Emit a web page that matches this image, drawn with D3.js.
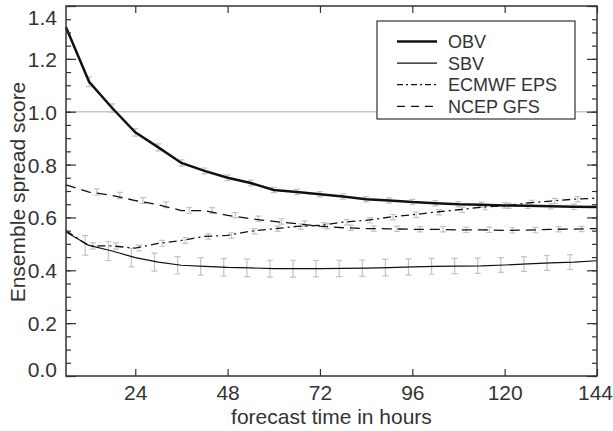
<!DOCTYPE html>
<html>
<head>
<meta charset="utf-8">
<script src="https://cdn.jsdelivr.net/npm/d3@7"></script>
<style>
body { margin: 0; background: #fff; }
text { font-family: "Liberation Sans", Arial, sans-serif; fill: #333; }
</style>
</head>
<body>
<svg id="chart" width="613" height="431"></svg>
<script>
// forecast lead times (h)
const hours = [6, 12, 18, 24, 30, 36, 42, 48, 54, 60, 66, 72, 78, 84, 90, 96, 102, 108, 114, 120, 126, 132, 138, 144];

const obv = [1.32, 1.113, 1.014, 0.922, 0.865, 0.806, 0.776, 0.750, 0.730, 0.704, 0.696, 0.688,
	0.679, 0.669, 0.664, 0.658, 0.654, 0.650, 0.648, 0.645, 0.644, 0.642, 0.640, 0.639];
const sbv = [0.545, 0.494, 0.473, 0.448, 0.431, 0.419, 0.415, 0.411, 0.409, 0.406, 0.406, 0.406,
	0.407, 0.408, 0.410, 0.413, 0.415, 0.416, 0.417, 0.420, 0.424, 0.428, 0.431, 0.436];
const ecmwf = [0.55, 0.492, 0.492, 0.484, 0.502, 0.513, 0.528, 0.532, 0.548, 0.557, 0.566, 0.570,
	0.582, 0.589, 0.601, 0.610, 0.620, 0.629, 0.639, 0.644, 0.655, 0.662, 0.669, 0.673];
const ncep = [0.723, 0.696, 0.683, 0.664, 0.648, 0.626, 0.626, 0.608, 0.595, 0.585, 0.576, 0.567,
	0.561, 0.558, 0.557, 0.555, 0.555, 0.553, 0.553, 0.551, 0.552, 0.555, 0.556, 0.558];

// half-widths of the error bars, for hours 12..138
const obvErr = [0.018, 0.016, 0.014, 0.013, 0.012, 0.011, 0.011, 0.011, 0.010, 0.010, 0.010,
	0.010, 0.010, 0.010, 0.010, 0.010, 0.010, 0.010, 0.010, 0.010, 0.010, 0.010];
const sbvErr = [0.037, 0.036, 0.035, 0.034, 0.033, 0.033, 0.033, 0.033, 0.032, 0.032, 0.031,
	0.031, 0.031, 0.031, 0.030, 0.030, 0.029, 0.029, 0.028, 0.028, 0.028, 0.028];
const ecmwfErr = [0.012, 0.012, 0.011, 0.011, 0.011, 0.010, 0.010, 0.010, 0.010, 0.010, 0.010,
	0.010, 0.010, 0.010, 0.010, 0.010, 0.010, 0.010, 0.010, 0.010, 0.010, 0.010];
const ncepErr = [0.012, 0.012, 0.011, 0.011, 0.011, 0.011, 0.010, 0.010, 0.010, 0.010, 0.010,
	0.010, 0.010, 0.010, 0.010, 0.010, 0.010, 0.010, 0.010, 0.010, 0.010, 0.010];

const xTicks = [24, 48, 72, 96, 120, 144];
const yTicks = [0, 0.2, 0.4, 0.6, 0.8, 1.0, 1.2, 1.4];
const legendNames = ["OBV", "SBV", "ECMWF EPS", "NCEP GFS"];

const series = [
	{ name: "OBV", values: obv, err: obvErr, shift: 0, width: 2.5, dash: null },
	{ name: "SBV", values: sbv, err: sbvErr, shift: -1, width: 1.2, dash: null },
	{ name: "ECMWF EPS", values: ecmwf, err: ecmwfErr, shift: 1, width: 1.3, dash: "8,4,2,4" },
	{ name: "NCEP GFS", values: ncep, err: ncepErr, shift: 2, width: 1.3, dash: "10,6" }
];

const margin = { top: 6, right: 16, bottom: 55, left: 66 },
	width = 613 - margin.left - margin.right,
	height = 431 - margin.top - margin.bottom;

const svg = d3.select("#chart")
	.append("g")
	.attr("transform", "translate(" + margin.left + "," + margin.top + ")");

const x = d3.scaleLinear().domain([6, 144]).range([0, width]);
const y = d3.scaleLinear().domain([0, 1.4]).range([height, 0]);

const minorY = d3.range(0, 1.4001, 0.05);

// reference line at 1.0
svg.append("line")
	.attr("x1", 0).attr("x2", width)
	.attr("y1", y(1)).attr("y2", y(1))
	.style("stroke", "#c8c8c8")
	.style("stroke-width", 1.5);

// error bars (slightly staggered in time per series)
const barHours = hours.filter(h => h >= 12 && h <= 138);
series.forEach(s => {
	const pts = barHours.map((h, i) => ({ h: h + s.shift, v: s.values[hours.indexOf(h)], e: s.err[i] }));
	const g = svg.append("g").style("stroke", "#c4c4c4").style("stroke-width", 1.2).style("fill", "none");
	g.selectAll("path")
		.data(pts).enter()
		.append("path")
		.attr("d", d => {
			const px = x(d.h), y0 = y(d.v - d.e), y1 = y(d.v + d.e);
			return `M${px},${y0}V${y1}M${px - 3},${y0}H${px + 3}M${px - 3},${y1}H${px + 3}`;
		});
});

// lines
const line = d3.line().x(d => x(d[0])).y(d => y(d[1]));
series.forEach(s => {
	svg.append("path")
		.datum(hours.map((h, i) => [h, s.values[i]]))
		.attr("d", line)
		.style("fill", "none")
		.style("stroke", "#111")
		.style("stroke-width", s.width)
		.style("stroke-dasharray", s.dash);
});

// axes: ticks pointing inward on all four sides
const ax = svg.append("g").attr("class", "axes");

const left = ax.append("g").call(d3.axisLeft(y).tickValues(yTicks).tickSize(-10).tickPadding(9).tickFormat(d3.format(".1f")));
left.selectAll(".tick text")
	.attr("dy", 0)
	.attr("x", -9)
	.attr("y", d => Math.min(Math.max(y(d) + 7.5, 18), height) - y(d))
	.style("font-size", "21px");
ax.append("g").call(d3.axisLeft(y).tickValues(minorY).tickSize(-5).tickFormat(""));

ax.append("g").attr("transform", `translate(${width},0)`)
	.call(d3.axisRight(y).tickValues(yTicks).tickSize(-10).tickFormat(""));
ax.append("g").attr("transform", `translate(${width},0)`)
	.call(d3.axisRight(y).tickValues(minorY).tickSize(-5).tickFormat(""));

const bottom = ax.append("g").attr("transform", `translate(0,${height})`)
	.call(d3.axisBottom(x).tickValues(xTicks).tickSize(-7).tickPadding(8.6));
bottom.selectAll(".tick text")
	.style("font-size", "21px")
	.attr("dx", d => d === 144 ? -2 : 0);

ax.append("g").call(d3.axisTop(x).tickValues(xTicks).tickSize(-7).tickFormat(""));

ax.selectAll(".domain").remove();
ax.selectAll(".tick line").style("stroke", "#333").style("stroke-width", 1.2);
ax.selectAll(".tick text").style("fill", "#333").style("font-family", "'Liberation Sans', Arial, sans-serif");

svg.append("rect")
	.attr("width", width).attr("height", height)
	.style("fill", "none")
	.style("stroke", "#333")
	.style("stroke-width", 1.5);

// axis titles
svg.append("text")
	.attr("x", width / 2)
	.attr("y", height + 48)
	.attr("text-anchor", "middle")
	.style("font-size", "21px")
	.text("forecast time in hours");

svg.append("text")
	.attr("transform", `translate(${25 - margin.left},${186}) rotate(-90)`)
	.attr("text-anchor", "middle")
	.style("font-size", "21px")
	.text("Ensemble spread score");

// legend
const legend = svg.append("g").attr("transform", `translate(${377 - margin.left},${21 - margin.top})`);
legend.append("rect")
	.attr("width", 198).attr("height", 98)
	.style("fill", "#fff")
	.style("stroke", "#333")
	.style("stroke-width", 1.2);

legendNames.forEach((name, i) => {
	const s = series.find(d => d.name === name);
	const ly = 20.5 + i * 21.6;
	legend.append("line")
		.attr("x1", 20).attr("x2", 60)
		.attr("y1", ly).attr("y2", ly)
		.style("stroke", "#111")
		.style("stroke-width", s.width)
		.style("stroke-dasharray", s.dash === "10,6" ? "8,6" : (s.dash ? "6,3,2,3" : null));
	legend.append("text")
		.attr("x", 71)
		.attr("y", ly + 6.5)
		.style("font-size", "18px")
		.text(name);
});
</script>
</body>
</html>
